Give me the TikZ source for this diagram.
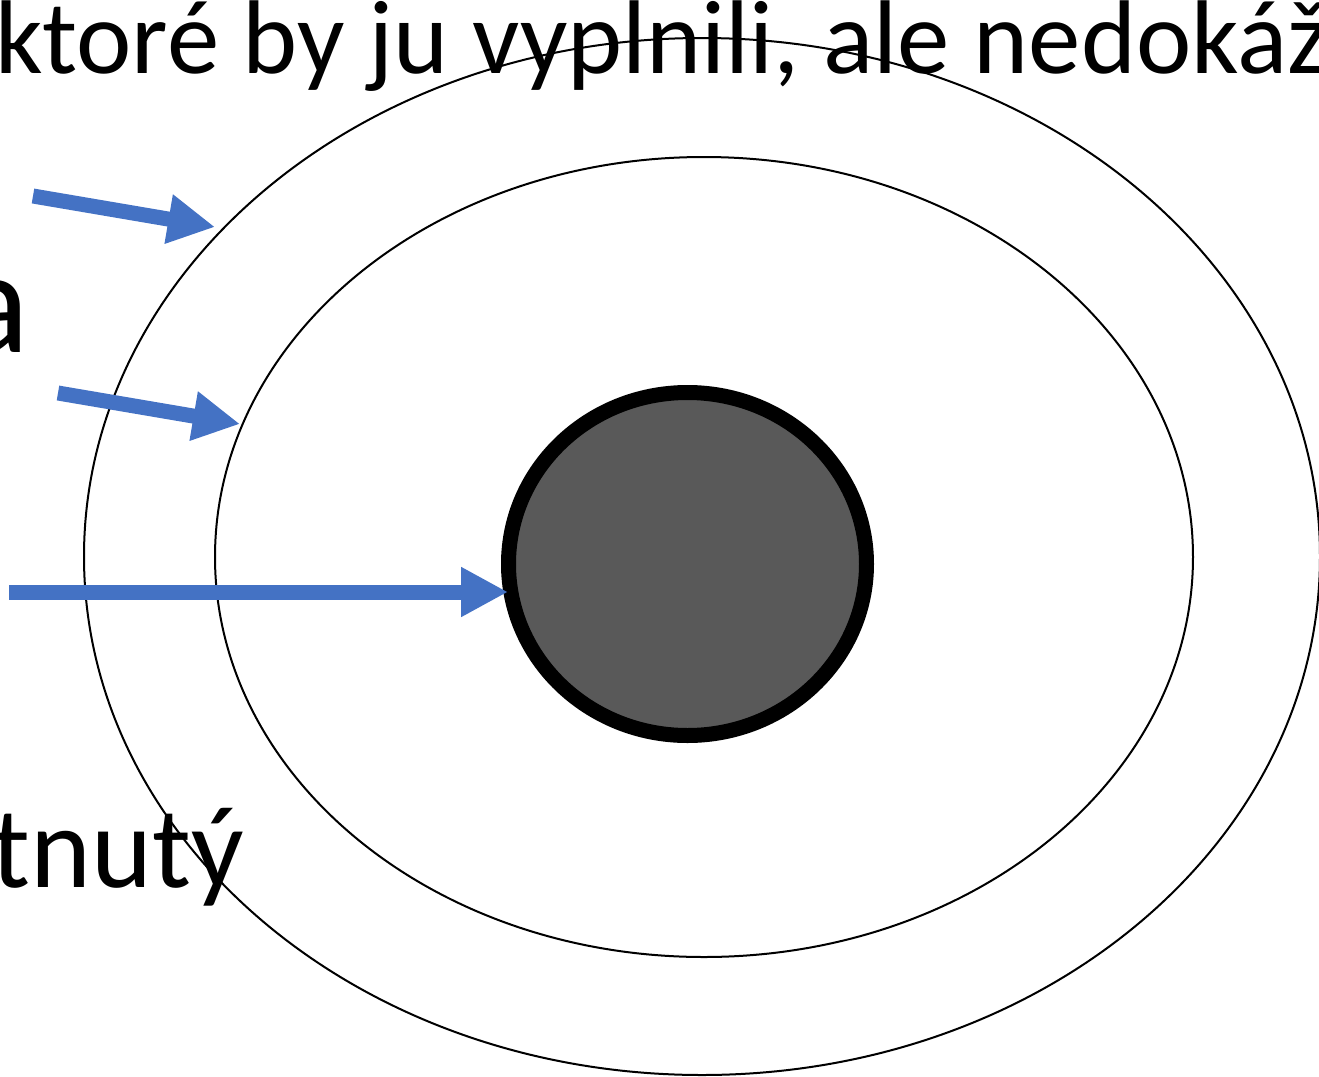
\documentclass[tikz,border=0pt]{standalone}
\usepackage{fontspec}
\setmainfont{Carlito}
\usetikzlibrary{arrows.meta,shapes.geometric}
\definecolor{arrowblue}{HTML}{4472C4}
\definecolor{coregray}{HTML}{595959}
\begin{document}
\begin{tikzpicture}[x=0.5pt,y=-0.5pt,
        arrow/.style = {arrowblue,line width=7.5pt,-{Triangle[length=23.5pt,width=23.5pt]}},
        ring/.style = {draw,ellipse,line width=1pt,inner sep=0pt}]
                \clip (0,0) rectangle (1319,1077);

                \node[anchor=base west,inner sep=0pt,font=\fontsize{52.4}{60}\selectfont]
                    (topline) at (-5,73) {ktoré by ju vyplnili, ale nedokáž};
                \node[anchor=base east,inner sep=0pt,font=\fontsize{74}{80}\selectfont]
                    (aline) at (30,352) {a};
                \node[anchor=base east,inner sep=0pt,font=\fontsize{58}{64}\selectfont]
                    (tnline) at (244,887) {tnutý};

                \node[ring,minimum width=618pt,minimum height=518.5pt]
                    (outer) at (702,556.5) {};
                \node[ring,minimum width=489pt,minimum height=400pt]
                    (inner) at (704,557) {};
                \node[draw,ellipse,inner sep=0pt,line width=7.5pt,fill=coregray,
                      minimum width=179pt,minimum height=171.5pt]
                    (core) at (687.5,564) {};

                \coordinate (outertail) at (33,196);
                \coordinate (outertip) at (215,227);
                \coordinate (innertail) at (58,393);
                \coordinate (innertip) at (240,424);
                \coordinate (coretail) at (9,592);
                \coordinate (coretip) at (508,592);

                \draw[arrow] (outertail) -- (outertip);
                \draw[arrow] (innertail) -- (innertip);
                \draw[arrow] (coretail) -- (coretip);
            \end{tikzpicture}
\end{document}
